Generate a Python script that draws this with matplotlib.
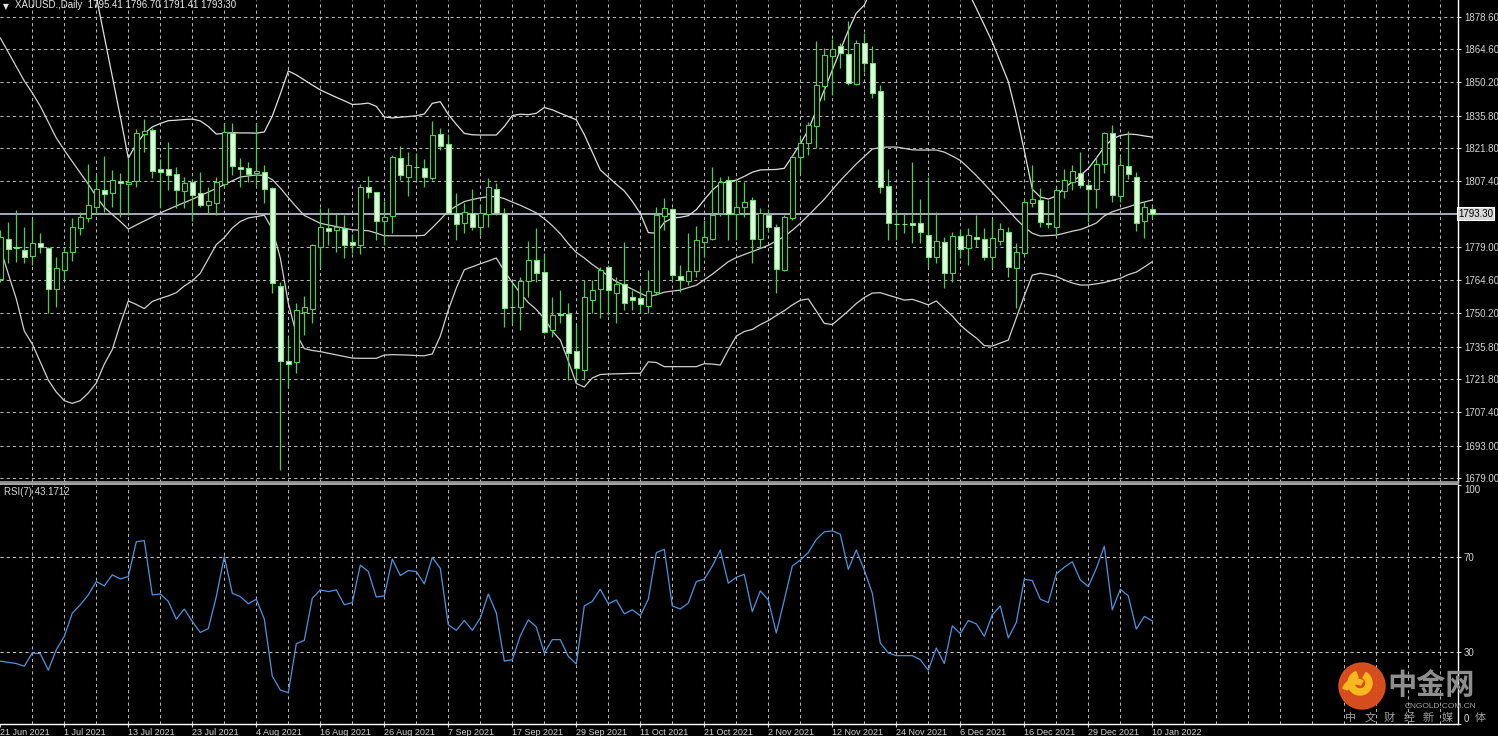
import numpy as np
import matplotlib
matplotlib.use("Agg")
import matplotlib.pyplot as plt
from matplotlib.patches import Circle, Wedge
from matplotlib.lines import Line2D
import matplotlib.transforms as mtransforms

plt.rcParams['font.family'] = ['Liberation Sans', 'DejaVu Sans']

# ---------------- data (XAUUSD daily) ----------------
opens = [1765.0, 1782.3, 1778.8, 1777.7, 1775.1, 1780.8, 1778.4, 1760.7, 1769.0, 1776.7,
         1787.0, 1791.4, 1796.4, 1803.6, 1802.4, 1807.6, 1806.1, 1807.6, 1827.8, 1829.6,
         1812.6, 1812.6, 1810.5, 1803.3, 1807.1, 1802.2, 1797.1, 1797.9, 1806.1, 1828.1,
         1813.7, 1813.0, 1810.8, 1811.5, 1804.3, 1762.1, 1729.8, 1729.3, 1751.0, 1752.0,
         1778.8, 1787.3, 1786.3, 1787.3, 1781.0, 1779.8, 1805.0, 1802.6, 1790.3, 1792.5,
         1817.6, 1809.4, 1813.7, 1813.3, 1808.7, 1827.7, 1823.4, 1793.8, 1789.2, 1793.5,
         1787.5, 1793.2, 1803.9, 1793.5, 1753.1, 1753.1, 1764.4, 1773.3, 1768.3, 1743.0,
         1750.0, 1750.0, 1734.1, 1725.7, 1756.0, 1760.7, 1770.2, 1759.2, 1762.9, 1757.5,
         1757.0, 1753.4, 1759.6, 1792.4, 1795.3, 1766.4, 1764.4, 1768.7, 1781.2, 1782.4,
         1793.5, 1807.9, 1793.2, 1796.4, 1799.3, 1782.3, 1792.8, 1787.5, 1769.0, 1791.4,
         1817.8, 1823.8, 1831.3, 1848.6, 1861.6, 1865.9, 1862.3, 1849.3, 1867.3, 1858.7,
         1846.6, 1805.3, 1788.9, 1789.1, 1789.2, 1789.5, 1784.1, 1774.8, 1781.2, 1767.8,
         1783.7, 1778.4, 1783.1, 1782.3, 1774.8, 1781.7, 1785.6, 1769.7, 1776.5, 1797.9,
         1799.3, 1789.3, 1787.7, 1803.3, 1807.2, 1810.8, 1805.8, 1803.9, 1814.9, 1828.4,
         1801.0, 1814.0, 1809.4, 1790.3, 1795.41]
highs = [1786.3, 1789.9, 1795.0, 1787.7, 1790.9, 1785.1, 1778.8, 1774.8, 1779.1, 1791.4,
         1794.2, 1814.9, 1810.1, 1818.3, 1812.3, 1810.8, 1817.5, 1829.9, 1834.2, 1830.3,
         1816.9, 1824.5, 1813.7, 1809.1, 1808.2, 1811.5, 1805.0, 1809.1, 1832.5, 1832.5,
         1817.3, 1815.9, 1832.5, 1814.4, 1805.0, 1763.9, 1739.5, 1754.6, 1757.8, 1780.3,
         1795.7, 1795.7, 1793.8, 1792.8, 1784.6, 1806.2, 1809.7, 1802.9, 1798.9, 1818.8,
         1822.6, 1820.2, 1819.7, 1816.9, 1833.6, 1830.3, 1827.7, 1802.2, 1797.9, 1803.9,
         1797.1, 1808.7, 1806.5, 1795.7, 1763.9, 1766.1, 1781.7, 1787.0, 1776.2, 1757.5,
         1760.4, 1754.6, 1745.2, 1764.7, 1764.7, 1770.4, 1771.2, 1766.1, 1781.2, 1760.4,
         1761.8, 1769.0, 1796.4, 1800.0, 1795.7, 1771.2, 1784.9, 1788.0, 1790.6, 1813.7,
         1809.4, 1809.7, 1808.7, 1807.2, 1800.7, 1795.7, 1795.3, 1788.9, 1792.8, 1818.8,
         1826.7, 1833.2, 1868.2, 1864.9, 1868.8, 1867.3, 1876.9, 1868.5, 1871.4, 1865.9,
         1849.0, 1812.6, 1795.3, 1793.2, 1815.9, 1799.6, 1809.4, 1794.2, 1783.4, 1785.6,
         1786.3, 1787.0, 1792.8, 1787.0, 1790.9, 1789.2, 1787.5, 1780.6, 1799.6, 1814.4,
         1804.3, 1799.3, 1804.8, 1812.6, 1814.4, 1820.2, 1807.5, 1818.0, 1828.8, 1831.7,
         1818.0, 1829.3, 1811.5, 1798.5, 1796.70]
lows = [1763.8, 1771.9, 1772.6, 1772.2, 1771.2, 1776.2, 1750.5, 1753.1, 1764.7, 1773.0,
        1784.1, 1789.9, 1793.2, 1794.2, 1796.4, 1792.1, 1792.8, 1805.0, 1820.2, 1808.7,
        1795.7, 1803.6, 1795.7, 1795.7, 1790.3, 1796.4, 1793.5, 1792.8, 1805.0, 1810.1,
        1805.0, 1807.2, 1805.8, 1797.9, 1758.9, 1682.5, 1717.8, 1724.3, 1740.9, 1746.1,
        1769.7, 1779.8, 1776.9, 1774.1, 1776.2, 1775.9, 1800.0, 1782.0, 1779.8, 1784.9,
        1807.9, 1801.0, 1807.2, 1805.0, 1807.9, 1820.9, 1793.5, 1782.0, 1784.9, 1786.3,
        1784.1, 1787.7, 1792.8, 1744.5, 1745.9, 1743.0, 1757.5, 1763.9, 1741.6, 1740.1,
        1745.9, 1721.4, 1721.4, 1721.4, 1750.3, 1748.1, 1749.5, 1745.9, 1751.7, 1751.7,
        1750.3, 1750.3, 1758.2, 1786.3, 1764.7, 1759.6, 1762.5, 1766.1, 1774.8, 1782.0,
        1792.4, 1782.0, 1782.0, 1792.1, 1771.9, 1778.4, 1785.6, 1758.9, 1768.7, 1790.6,
        1810.8, 1818.8, 1821.7, 1842.5, 1844.7, 1856.3, 1849.0, 1849.0, 1854.8, 1843.3,
        1802.2, 1782.0, 1782.0, 1784.9, 1780.6, 1780.6, 1770.4, 1771.9, 1761.1, 1763.9,
        1774.1, 1771.2, 1779.1, 1773.3, 1769.7, 1779.8, 1766.1, 1752.4, 1775.5, 1796.1,
        1787.7, 1787.0, 1784.1, 1800.0, 1803.6, 1804.3, 1789.9, 1795.7, 1810.8, 1798.5,
        1798.5, 1808.2, 1786.0, 1782.7, 1791.41]
closes = [1783.4, 1778.0, 1778.5, 1774.5, 1780.6, 1778.8, 1760.7, 1769.7, 1776.7, 1787.7,
          1792.1, 1797.0, 1804.0, 1801.9, 1807.9, 1806.5, 1807.2, 1828.1, 1829.3, 1811.8,
          1811.4, 1810.0, 1803.6, 1806.8, 1801.4, 1797.1, 1798.9, 1807.2, 1828.8, 1814.0,
          1812.7, 1810.4, 1811.7, 1803.9, 1763.2, 1729.8, 1728.3, 1751.7, 1752.9, 1779.8,
          1787.5, 1785.9, 1787.7, 1779.8, 1779.8, 1805.0, 1802.9, 1790.3, 1791.8, 1818.0,
          1810.1, 1814.3, 1813.4, 1809.4, 1827.4, 1822.6, 1793.8, 1788.9, 1794.2, 1787.5,
          1793.5, 1804.8, 1793.5, 1752.4, 1752.9, 1764.4, 1773.3, 1767.6, 1742.3, 1749.5,
          1749.7, 1733.0, 1726.5, 1757.2, 1760.4, 1769.0, 1760.4, 1762.9, 1754.9, 1756.0,
          1754.2, 1760.0, 1792.8, 1795.7, 1766.8, 1764.7, 1768.7, 1782.0, 1783.1, 1792.8,
          1807.2, 1793.2, 1796.4, 1798.5, 1782.3, 1793.5, 1787.7, 1769.3, 1791.8, 1818.0,
          1824.1, 1831.7, 1849.0, 1862.0, 1864.5, 1862.7, 1849.8, 1867.3, 1858.7, 1845.7,
          1805.0, 1789.2, 1788.8, 1788.8, 1788.3, 1785.3, 1774.5, 1781.7, 1767.8, 1783.7,
          1778.0, 1784.1, 1782.3, 1774.8, 1782.7, 1786.6, 1770.4, 1776.9, 1798.5, 1799.6,
          1789.9, 1789.1, 1803.6, 1807.9, 1811.8, 1805.8, 1803.9, 1814.9, 1828.4, 1801.4,
          1814.4, 1810.5, 1789.5, 1796.1, 1793.30]

nan = float('nan')
bb_upper = [nan] * 10 + [
    1922.0, 1904.6, 1887.3, 1870.0, 1852.7, 1835.4, 1817.4, 1823.5, 1828.0, 1830.9,
    1832.4, 1833.6, 1833.8, 1834.1, 1834.3, 1833.5, 1831.1, 1827.8, 1828.1, 1828.4,
    1828.3, 1828.3, 1828.2, 1828.7, 1835.6, 1845.1, 1855.1, 1853.4, 1851.2, 1849.0,
    1846.9, 1845.3, 1843.7, 1842.2, 1840.6, 1840.8, 1841.2, 1839.8, 1835.2, 1834.8,
    1835.1, 1835.4, 1835.7, 1836.5, 1841.1, 1841.8, 1836.3, 1832.0, 1828.1, 1827.5,
    1827.4, 1827.4, 1827.4, 1831.1, 1835.8, 1836.4, 1836.2, 1836.8, 1839.3, 1838.3,
    1836.8, 1835.4, 1834.0, 1827.6, 1819.9, 1812.3, 1809.2, 1806.1, 1803.2, 1798.7,
    1793.5, 1785.2, 1784.9, 1789.6, 1791.5, 1791.8, 1792.5, 1795.1, 1799.4, 1803.5,
    1806.5, 1807.2, 1807.9, 1809.5, 1811.3, 1812.3, 1812.4, 1812.5, 1813.0, 1818.2,
    1823.6, 1829.5, 1838.2, 1846.9, 1855.5, 1864.1, 1872.6, 1880.1, 1883.6, 1891.0,
    1898.0, 1902.0, 1905.0, 1906.0, 1906.0, 1905.0, 1904.0, 1903.0, 1901.0, 1898.0,
    1894.0, 1889.3, 1882.2, 1874.9, 1867.6, 1859.1, 1850.5, 1836.5, 1820.6, 1804.0,
    1800.6, 1799.7, 1801.0, 1804.5, 1807.1, 1809.9, 1812.9, 1817.4, 1822.2, 1825.7,
    1827.2, 1827.8, 1827.6, 1827.0, 1826.5]
bb_middle = [
    1869.4, 1863.2, 1857.0, 1850.8, 1845.6, 1839.9, 1833.0, 1826.1, 1820.9, 1815.9,
    1811.0, 1806.1, 1800.8, 1796.1, 1793.0, 1790.0, 1786.7, 1788.5, 1790.2, 1791.9,
    1793.7, 1795.2, 1796.7, 1798.2, 1799.6, 1801.2, 1802.7, 1804.3, 1805.9, 1807.6,
    1809.2, 1809.7, 1810.1, 1809.9, 1808.1, 1804.5, 1800.3, 1796.3, 1792.6, 1790.9,
    1789.2, 1788.5, 1787.8, 1787.1, 1786.4, 1786.2, 1786.0, 1785.0, 1783.8, 1783.8,
    1783.8, 1783.8, 1783.8, 1784.0, 1787.3, 1790.8, 1794.5, 1796.7, 1798.6, 1799.5,
    1800.2, 1800.7, 1800.8, 1799.9, 1798.4, 1797.0, 1795.4, 1793.7, 1791.2, 1788.2,
    1784.7, 1780.4, 1776.6, 1774.2, 1771.4, 1769.0, 1766.4, 1764.0, 1762.4, 1760.7,
    1758.9, 1757.4, 1758.3, 1759.4, 1759.9, 1760.3, 1761.4, 1762.4, 1764.8, 1767.2,
    1769.9, 1772.6, 1774.4, 1775.7, 1777.0, 1778.3, 1779.7, 1781.6, 1783.5, 1786.2,
    1789.2, 1792.6, 1796.1, 1799.6, 1803.7, 1807.7, 1811.3, 1814.9, 1818.1, 1821.3,
    1822.0, 1822.2, 1822.2, 1821.6, 1821.0, 1820.9, 1820.9, 1820.9, 1820.0, 1818.3,
    1816.4, 1813.2, 1809.9, 1806.2, 1802.5, 1798.7, 1794.9, 1791.0, 1787.6, 1784.9,
    1783.7, 1783.9, 1784.1, 1784.9, 1785.8, 1786.5, 1787.8, 1789.3, 1792.4, 1794.2,
    1795.3, 1796.3, 1797.5, 1798.4, 1799.3]
bb_lower = [
    1778.5, 1767.3, 1756.5, 1742.6, 1737.0, 1729.2, 1721.4, 1716.2, 1712.5, 1711.3,
    1712.5, 1715.8, 1720.1, 1728.3, 1734.6, 1745.6, 1755.6, 1754.1, 1752.3, 1755.4,
    1756.7, 1757.8, 1759.2, 1762.1, 1764.3, 1767.6, 1773.8, 1780.0, 1783.0, 1787.2,
    1790.0, 1791.5, 1792.1, 1792.7, 1786.7, 1774.2, 1754.7, 1741.3, 1735.0, 1734.2,
    1733.7, 1733.0, 1732.3, 1731.6, 1730.9, 1730.8, 1730.8, 1730.8, 1732.2, 1732.4,
    1732.3, 1732.2, 1732.0, 1731.9, 1732.7, 1740.4, 1751.7, 1761.2, 1769.1, 1770.4,
    1771.7, 1772.9, 1774.2, 1768.6, 1763.6, 1759.0, 1754.9, 1751.9, 1748.0, 1742.6,
    1738.7, 1729.6, 1719.9, 1718.4, 1722.3, 1723.8, 1724.0, 1724.1, 1724.2, 1724.3,
    1724.3, 1729.3, 1729.0, 1727.2, 1727.2, 1727.2, 1727.2, 1727.2, 1728.5, 1728.3,
    1727.9, 1734.4, 1740.4, 1742.4, 1743.3, 1745.4, 1747.1, 1749.3, 1751.4, 1753.9,
    1755.9, 1756.5, 1751.3, 1745.9, 1745.4, 1748.3, 1751.3, 1754.5, 1757.1, 1759.0,
    1759.2, 1758.1, 1757.1, 1756.0, 1756.3, 1755.2, 1753.9, 1755.6, 1752.3, 1749.1,
    1745.2, 1742.2, 1739.6, 1736.3, 1736.1, 1737.4, 1738.7, 1748.2, 1757.8, 1766.8,
    1767.6, 1767.0, 1766.2, 1764.7, 1763.4, 1762.5, 1762.5, 1763.0, 1763.6, 1764.5,
    1765.4, 1767.0, 1768.1, 1770.3, 1772.6]
rsi7 = [
    26.3, 25.8, 25.3, 24.2, 29.7, 29.4, 22.5, 31.1, 36.7, 46.4,
    49.9, 54.0, 59.6, 57.8, 62.4, 60.7, 61.7, 76.3, 76.7, 54.0,
    54.4, 51.3, 43.9, 48.1, 42.9, 38.3, 39.9, 53.3, 70.0, 54.7,
    53.3, 50.3, 52.2, 43.9, 20.0, 14.2, 13.1, 33.6, 35.0, 52.6,
    56.1, 55.4, 56.1, 49.9, 50.8, 66.5, 63.8, 53.1, 53.6, 69.0,
    62.1, 64.2, 63.8, 58.6, 69.7, 65.1, 41.5, 39.2, 43.3, 39.2,
    44.3, 54.4, 46.4, 26.3, 26.9, 36.9, 43.6, 40.6, 29.7, 35.3,
    35.3, 28.3, 25.1, 49.4, 51.3, 56.4, 50.3, 51.9, 46.1, 47.8,
    45.3, 52.2, 71.7, 73.1, 49.4, 48.1, 50.6, 59.6, 60.6, 66.1,
    72.8, 58.9, 61.4, 62.6, 47.0, 55.7, 51.9, 38.1, 51.9, 66.1,
    68.6, 71.7, 77.2, 80.4, 80.8, 79.4, 64.7, 72.8, 64.4, 54.7,
    33.9, 29.7, 28.6, 28.6, 28.6, 26.9, 22.5, 31.8, 25.3, 41.1,
    37.8, 43.3, 41.9, 36.7, 45.7, 49.4, 36.0, 42.5, 60.6, 60.0,
    52.2, 50.8, 62.8, 65.6, 67.9, 60.3, 57.5, 65.1, 74.4, 47.8,
    56.4, 53.6, 39.7, 45.0, 43.17]

date_labels = ["21 Jun 2021", "1 Jul 2021", "13 Jul 2021", "23 Jul 2021", "4 Aug 2021",
               "16 Aug 2021", "26 Aug 2021", "7 Sep 2021", "17 Sep 2021", "29 Sep 2021",
               "11 Oct 2021", "21 Oct 2021", "2 Nov 2021", "12 Nov 2021", "24 Nov 2021",
               "6 Dec 2021", "16 Dec 2021", "29 Dec 2021", "10 Jan 2022"]
price_ticks = ["1878.60", "1864.60", "1850.20", "1835.80", "1821.80", "1807.40",
               "1779.00", "1764.60", "1750.20", "1735.80", "1721.80", "1707.40",
               "1693.00", "1679.00"]
last_price = 1793.30
rsi_levels = [70, 30]
rsi_ticks = ["100", "70", "30", "0"]
title = "XAUUSD.,Daily  1795.41 1796.70 1791.41 1793.30"
rsi_title = "RSI(7) 43.1712"

# ---------------- layout ----------------
W, H = 1498, 736
fig = plt.figure(figsize=(W / 100, H / 100), dpi=100, facecolor='black')
PR = 1458          # right edge of plotting area (px)
MAIN_BOT = 482
RSI_TOP, RSI_BOT = 485, 724

ax = fig.add_axes([0, 1 - MAIN_BOT / H, PR / W, MAIN_BOT / H], facecolor='black')
axr = fig.add_axes([0, 1 - RSI_BOT / H, PR / W, (RSI_BOT - RSI_TOP) / H], facecolor='black')

n = len(closes)
x = np.arange(n)
o = np.array(opens); h = np.array(highs); l = np.array(lows); c = np.array(closes)
xlim = (-0.3 / 8, (PR - 0.3) / 8)
for a in (ax, axr):
    a.set_xlim(*xlim)
    for s in ('left', 'top'):
        a.spines[s].set_visible(False)
    a.spines['right'].set_color('white')
    a.spines['right'].set_linewidth(1.0)
ax.spines['bottom'].set_visible(False)
axr.spines['bottom'].set_color('white')
axr.spines['bottom'].set_linewidth(1.0)

ax.set_ylim(1677.3, 1885.8)
axr.set_ylim(0, 100)

grid_c = '#b4b4b4'
dash = (0, (3, 3))
# vertical grid every 4 bars in both panes
for i in range(4, int(xlim[1]) + 1, 4):
    ax.axvline(i, color=grid_c, lw=0.75, ls=dash, zorder=1)
    axr.axvline(i, color=grid_c, lw=0.75, ls=dash, zorder=1)

tick_vals = [float(s) for s in price_ticks]
for v in tick_vals:
    ax.axhline(v, color=grid_c, lw=0.75, ls=dash, zorder=1)
for v in rsi_levels:
    axr.axhline(v, color='#c8c8c8', lw=0.75, ls=dash, zorder=1)

# price line
ax.axhline(last_price, color='#a4acbc', lw=1.4, zorder=2)

# bollinger bands
ax.plot(x, bb_upper, color='#dedede', lw=0.9, zorder=3)
ax.plot(x, bb_middle, color='#cfcfcf', lw=0.9, zorder=3)
ax.plot(x, bb_lower, color='#cfcfcf', lw=0.9, zorder=3)

# candles
wick_c = '#44d444'
ax.vlines(x, l, h, color=wick_c, lw=0.9, zorder=4)
up = c >= o
bot = np.minimum(o, c)
ht = np.maximum(np.abs(c - o), 0.25)
bw = 0.6
ax.bar(x[up], ht[up], bottom=bot[up], width=bw, facecolor='black',
       edgecolor=wick_c, linewidth=0.8, zorder=5)
ax.bar(x[~up], ht[~up], bottom=bot[~up], width=bw, facecolor='#e4ffe4',
       edgecolor='#6ee86e', linewidth=0.8, zorder=5)

# price axis
txt_c = '#d4d4d4'
ax.yaxis.tick_right()
ax.set_yticks(tick_vals)
ax.set_yticklabels(price_ticks)
ax.tick_params(axis='y', colors=txt_c, labelsize=7, length=2.2, width=0.8, pad=2)
ax.tick_params(axis='x', bottom=False, labelbottom=False)
ax.text(1.0, last_price, f"{last_price:.2f}",
        transform=mtransforms.blended_transform_factory(ax.transAxes, ax.transData),
        ha='left', va='center', fontsize=7, color='black',
        bbox=dict(boxstyle='square,pad=0.15', facecolor='#d8d8d8', edgecolor='white', lw=0.8),
        clip_on=False, zorder=10)
fig.text(3 / W, 1 - 2 / H, "\u25BC", fontsize=5.5, color='#e8e8e8', va='top', ha='left',
         family=['DejaVu Sans'])
fig.text(15 / W, 1 - 0.5 / H, title, fontsize=7, color='#e8e8e8', va='top', ha='left')

# RSI pane
axr.plot(x, rsi7, color='#4a94e0', lw=0.9, zorder=3)
axr.yaxis.tick_right()
axr.set_yticks([100, 70, 30, 0])
axr.set_yticklabels(rsi_ticks)
axr.tick_params(axis='y', colors=txt_c, labelsize=7, length=2.2, width=0.8, pad=2)
lbls = axr.get_yticklabels()
lbls[0].set_va('top')
lbls[-1].set_va('bottom')
axr.set_xticks(x[::8])
axr.set_xticklabels(date_labels, ha='left')
axr.tick_params(axis='x', colors=txt_c, labelsize=6.5, length=2.5, width=0.8, pad=0.3)
fig.text(4 / W, 1 - 487 / H, rsi_title, fontsize=7, color='#d8d8d8', va='top', ha='left')

# overlay for separator and watermark
ov = fig.add_axes([0, 0, 1, 1], facecolor='none')
ov.set_xlim(0, W); ov.set_ylim(H, 0); ov.axis('off')
ov.add_line(Line2D([0, PR], [481.8, 481.8], color='#a8a8a8', lw=1.2))
ov.add_line(Line2D([0, PR], [483.8, 483.8], color='#c4c4c4', lw=1.2))
# watermark logo
ov.add_patch(Circle((1362, 686), 23, color='#e2521e', alpha=0.95, zorder=20))
ov.add_patch(Wedge((1360, 683), 12, -60, 250, width=6, color='#f6b81c', zorder=21))
ov.add_patch(Wedge((1356, 693), 14, 200, 300, width=5, color='#f6b81c', zorder=21))
ov.text(1387, 685, "中金网", fontsize=21, color='#8e8e8e', va='center', ha='left',
        family=['Noto Sans CJK SC'], fontweight='bold', zorder=20)
ov.text(1440, 706, "CNGOLD.COM.CN", fontsize=6, color='#a0a0a0', va='center', ha='center', zorder=20)
for k, ch in enumerate("中文财经新媒"):
    ov.text(1351 + k * 19.3, 718, ch, fontsize=8, color='#a0a0a0', va='center', ha='center',
            family=['Noto Sans CJK SC'], zorder=20)
ov.text(1475, 718, "体", fontsize=8, color='#a0a0a0', va='center', ha='left',
        family=['Noto Sans CJK SC'], zorder=20)

fig.savefig('out.png', dpi=100, facecolor='black')
